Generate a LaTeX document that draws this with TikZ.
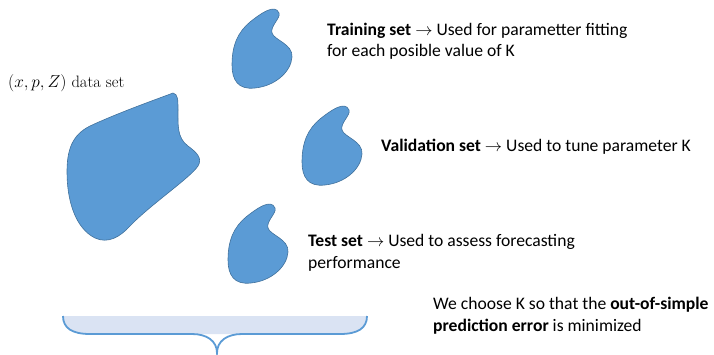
\documentclass[tikz,border=0pt]{standalone}
\usepackage{fontspec}
\newfontfamily\calfont{Carlito}
\definecolor{blobfill}{RGB}{91,155,213}
\definecolor{blobedge}{RGB}{65,113,156}
\definecolor{bracefill}{RGB}{218,227,243}
\definecolor{braceline}{RGB}{91,155,213}
\tikzset{
  blob/.style={fill=blobfill, draw=blobedge, line width=0.6pt},
  lbl/.style={font=\calfont\fontsize{17.6}{21.5}\selectfont, inner sep=0pt, align=left, anchor=base west},
  bracestroke/.style={draw=braceline, line width=1.8pt},
  smallblob/.pic={
    \path[blob] (47,5) .. controls (49,10) and (38,18) .. (40,25)
      .. controls (42,32) and (61,36) .. (60,49)
      .. controls (59,64) and (43,78) .. (23,80)
      .. controls (6,82) and (0,72) .. (0,57)
      .. controls (0,37) and (6,24) .. (18,14)
      .. controls (28,6) and (43,-5) .. (47,5) -- cycle;
  }
}
\begin{document}
\begin{tikzpicture}[x=1pt,y=-1pt]
\useasboundingbox (0,0) rectangle (714,354);
% big blob
\path[blob] (173,93) .. controls (178,94) and (178,100) .. (178,110)
  .. controls (178,125) and (177,138) .. (188,146)
  .. controls (196,152) and (203,158) .. (198,166)
  .. controls (190,178) and (150,205) .. (130,226)
  .. controls (120,237) and (108,244) .. (95,238)
  .. controls (75,228) and (67,200) .. (67,172)
  .. controls (67,150) and (72,135) .. (90,126)
  .. controls (120,112) and (160,98) .. (173,93) -- cycle;
% small blobs
\pic at (232,8) {smallblob};
\pic at (302,105) {smallblob};
\pic at (228,203) {smallblob};
% brace
\fill[bracefill] (63,316) .. controls (63,328) and (72,334) .. (90,334) -- (340,334)
  .. controls (358,334) and (367,328) .. (367,316) -- cycle;
\draw[bracestroke] (63,316) .. controls (63,328) and (72,334) .. (90,334) -- (192,334)
  .. controls (207,334) and (217,341) .. (217,353)
  .. controls (217,341) and (227,334) .. (242,334) -- (340,334)
  .. controls (358,334) and (367,328) .. (367,316);
% labels
\node[font=\fontsize{16.5}{19}\selectfont, inner sep=0pt, anchor=base west] (data) at (8,87) {$(x,p,Z)$ data set};
\node[lbl] (train) at (327,56.5) {\textbf{Training set} $\rightarrow$ Used for parametter fitting\\for each posible value of K};
\node[lbl] (valid) at (381,151.5) {\textbf{Validation set} $\rightarrow$ Used to tune parameter K};
\node[lbl] (test) at (308,268) {\textbf{Test set} $\rightarrow$ Used to assess forecasting\\performance};
\node[lbl] (choose) at (433,331) {We choose K so that the \textbf{out-of-simple}\\\textbf{prediction error} is minimized};
\end{tikzpicture}
\end{document}
